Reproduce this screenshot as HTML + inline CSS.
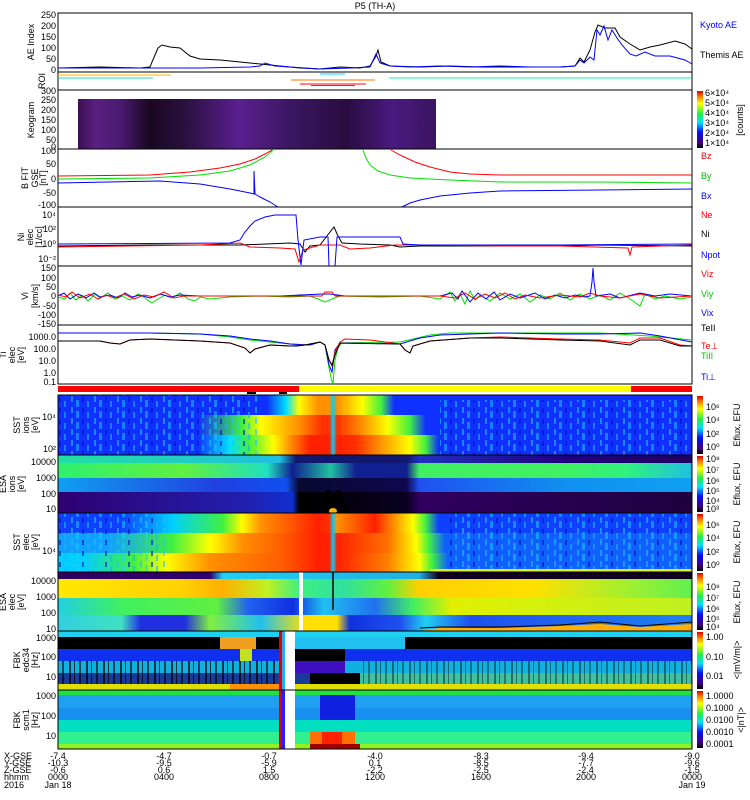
<!DOCTYPE html>
<html><head><meta charset="utf-8"><style>
body{margin:0;background:#fff}
svg{display:block;font-family:"Liberation Sans",sans-serif}
.t{font-size:9px;fill:#000}
.tl{font-size:9px;text-anchor:end}
.r{font-size:9px}
</style></head><body>
<svg width="750" height="800" viewBox="0 0 750 800" xmlns="http://www.w3.org/2000/svg">
<defs>
<pattern id="spk" width="23" height="11" patternUnits="userSpaceOnUse"><rect x="2" y="0" width="2" height="6" fill="#20c0ff" opacity=".6"/><rect x="7" y="4" width="3" height="7" fill="#20d0ff" opacity=".5"/><rect x="13" y="1" width="2" height="5" fill="#0010c0" opacity=".6"/><rect x="18" y="5" width="2" height="6" fill="#20b0ff" opacity=".6"/></pattern>
<pattern id="blk" width="17" height="12" patternUnits="userSpaceOnUse"><rect x="1" y="0" width="2" height="12" fill="#000" opacity=".7"/><rect x="6" y="0" width="1" height="12" fill="#000" opacity=".7"/><rect x="11" y="0" width="2" height="12" fill="#000" opacity=".6"/></pattern>
<linearGradient id="rb" x1="0" y1="1" x2="0" y2="0"><stop offset="0" stop-color="#000"/><stop offset=".1" stop-color="#400080"/><stop offset=".28" stop-color="#0010ff"/><stop offset=".45" stop-color="#00e0ff"/><stop offset=".6" stop-color="#20f040"/><stop offset=".78" stop-color="#ffff00"/><stop offset=".9" stop-color="#ff8000"/><stop offset="1" stop-color="#e00000"/></linearGradient>
<linearGradient id="keo" x1="0" y1="0" x2="1" y2="0"><stop offset="0" stop-color="#3a1050"/><stop offset=".05" stop-color="#5a2080"/><stop offset=".12" stop-color="#4a1a70"/><stop offset=".2" stop-color="#1a0820"/><stop offset=".3" stop-color="#2a1040"/><stop offset=".45" stop-color="#5a2090"/><stop offset=".6" stop-color="#3a1660"/><stop offset=".75" stop-color="#2a0c40"/><stop offset=".88" stop-color="#4a1a80"/><stop offset="1" stop-color="#3a1460"/></linearGradient>
<linearGradient id="si1" gradientUnits="userSpaceOnUse" x1="58" x2="692" y1="0" y2="0"><stop offset=".33" stop-color="#1030ff"/><stop offset=".36" stop-color="#00e0ff"/><stop offset=".38" stop-color="#ffff00"/><stop offset=".41" stop-color="#ff9000"/><stop offset=".428" stop-color="#ff9000"/><stop offset=".434" stop-color="#00d0ff"/><stop offset=".44" stop-color="#ff9000"/><stop offset=".48" stop-color="#ffff00"/><stop offset=".51" stop-color="#40f040"/><stop offset=".53" stop-color="#1030ff"/></linearGradient>
<linearGradient id="si2" gradientUnits="userSpaceOnUse" x1="58" x2="692" y1="0" y2="0"><stop offset=".22" stop-color="#1030ff"/><stop offset=".29" stop-color="#40f040"/><stop offset=".32" stop-color="#ffff00"/><stop offset=".38" stop-color="#ff9000"/><stop offset=".416" stop-color="#ff3000"/><stop offset=".428" stop-color="#ff3000"/><stop offset=".434" stop-color="#00d0ff"/><stop offset=".44" stop-color="#ff3000"/><stop offset=".48" stop-color="#ff9000"/><stop offset=".52" stop-color="#ffff00"/><stop offset=".555" stop-color="#40f040"/><stop offset=".58" stop-color="#1030ff"/></linearGradient>
<linearGradient id="si3" gradientUnits="userSpaceOnUse" x1="58" x2="692" y1="0" y2="0"><stop offset=".22" stop-color="#1030ff"/><stop offset=".27" stop-color="#00e0ff"/><stop offset=".30" stop-color="#40f040"/><stop offset=".34" stop-color="#ffff00"/><stop offset=".366" stop-color="#ff9000"/><stop offset=".397" stop-color="#ff2000"/><stop offset=".428" stop-color="#ff2000"/><stop offset=".434" stop-color="#00d0ff"/><stop offset=".44" stop-color="#ff2000"/><stop offset=".47" stop-color="#ff3000"/><stop offset=".508" stop-color="#ff9000"/><stop offset=".555" stop-color="#ffff00"/><stop offset=".58" stop-color="#40f040"/><stop offset=".60" stop-color="#1030ff"/></linearGradient>
<linearGradient id="ei1" gradientUnits="userSpaceOnUse" x1="58" x2="692" y1="0" y2="0"><stop offset="0" stop-color="#20e0a0"/><stop offset=".35" stop-color="#20c0e0"/><stop offset=".375" stop-color="#101870"/><stop offset=".55" stop-color="#101870"/><stop offset=".57" stop-color="#2030c0"/><stop offset=".8" stop-color="#200080"/><stop offset="1" stop-color="#200060"/></linearGradient>
<linearGradient id="ei2" gradientUnits="userSpaceOnUse" x1="58" x2="692" y1="0" y2="0"><stop offset="0" stop-color="#30f070"/><stop offset=".2" stop-color="#60f040"/><stop offset=".33" stop-color="#20e0c0"/><stop offset=".37" stop-color="#102090"/><stop offset=".43" stop-color="#20c0a0"/><stop offset=".47" stop-color="#102090"/><stop offset=".55" stop-color="#102090"/><stop offset=".57" stop-color="#40f060"/><stop offset=".8" stop-color="#40f060"/><stop offset=".9" stop-color="#30f080"/><stop offset="1" stop-color="#20c0e0"/></linearGradient>
<linearGradient id="ei3" gradientUnits="userSpaceOnUse" x1="58" x2="692" y1="0" y2="0"><stop offset="0" stop-color="#10a0f0"/><stop offset=".25" stop-color="#2040e0"/><stop offset=".36" stop-color="#1050f0"/><stop offset=".38" stop-color="#080830"/><stop offset=".55" stop-color="#100850"/><stop offset=".57" stop-color="#2050f0"/><stop offset=".8" stop-color="#1090f0"/><stop offset="1" stop-color="#10a0f0"/></linearGradient>
<linearGradient id="ei4" gradientUnits="userSpaceOnUse" x1="58" x2="692" y1="0" y2="0"><stop offset="0" stop-color="#300070"/><stop offset=".3" stop-color="#2020b0"/><stop offset=".37" stop-color="#1030d0"/><stop offset=".38" stop-color="#000"/><stop offset=".55" stop-color="#080020"/><stop offset=".57" stop-color="#300060"/><stop offset="1" stop-color="#200040"/></linearGradient>
<linearGradient id="se1" gradientUnits="userSpaceOnUse" x1="58" x2="692" y1="0" y2="0"><stop offset=".1" stop-color="#1040ff"/><stop offset=".18" stop-color="#00d0ff"/><stop offset=".26" stop-color="#40f040"/><stop offset=".29" stop-color="#ffff00"/><stop offset=".32" stop-color="#ff9000"/><stop offset=".36" stop-color="#ff6000"/><stop offset=".41" stop-color="#ff2000"/><stop offset=".428" stop-color="#ff3000"/><stop offset=".434" stop-color="#00d0ff"/><stop offset=".44" stop-color="#ff9000"/><stop offset=".50" stop-color="#ff2000"/><stop offset=".53" stop-color="#ff9000"/><stop offset=".56" stop-color="#ffff00"/><stop offset=".58" stop-color="#40f040"/><stop offset=".60" stop-color="#1040ff"/></linearGradient>
<linearGradient id="se2" gradientUnits="userSpaceOnUse" x1="58" x2="692" y1="0" y2="0"><stop offset=".08" stop-color="#10a0ff"/><stop offset=".18" stop-color="#40f040"/><stop offset=".24" stop-color="#ffff00"/><stop offset=".29" stop-color="#ff9000"/><stop offset=".35" stop-color="#ff6000"/><stop offset=".41" stop-color="#ff2000"/><stop offset=".428" stop-color="#ff2000"/><stop offset=".434" stop-color="#00d0ff"/><stop offset=".44" stop-color="#ff2000"/><stop offset=".52" stop-color="#ff7000"/><stop offset=".565" stop-color="#ffff00"/><stop offset=".585" stop-color="#40f040"/><stop offset=".61" stop-color="#1060ff"/></linearGradient>
<linearGradient id="se3" gradientUnits="userSpaceOnUse" x1="58" x2="692" y1="0" y2="0"><stop offset=".04" stop-color="#00d0ff"/><stop offset=".12" stop-color="#40f040"/><stop offset=".17" stop-color="#ffff00"/><stop offset=".24" stop-color="#ff9000"/><stop offset=".35" stop-color="#ff6000"/><stop offset=".41" stop-color="#ff2000"/><stop offset=".428" stop-color="#ff2000"/><stop offset=".434" stop-color="#00d0ff"/><stop offset=".44" stop-color="#ff2000"/><stop offset=".52" stop-color="#ff8000"/><stop offset=".57" stop-color="#ffff00"/><stop offset=".59" stop-color="#40f040"/><stop offset=".615" stop-color="#1060ff"/></linearGradient>
<linearGradient id="ee1" gradientUnits="userSpaceOnUse" x1="58" x2="692" y1="0" y2="0"><stop offset="0" stop-color="#300060"/><stop offset=".24" stop-color="#300070"/><stop offset=".26" stop-color="#20d0f0"/><stop offset=".57" stop-color="#20b0e0"/><stop offset=".6" stop-color="#100020"/><stop offset="1" stop-color="#100020"/></linearGradient>
<linearGradient id="ee2" gradientUnits="userSpaceOnUse" x1="58" x2="692" y1="0" y2="0"><stop offset="0" stop-color="#ffe800"/><stop offset=".2" stop-color="#ffd000"/><stop offset=".26" stop-color="#ffb000"/><stop offset=".33" stop-color="#c0f020"/><stop offset=".38" stop-color="#40f080"/><stop offset=".45" stop-color="#30e0a0"/><stop offset=".52" stop-color="#60f040"/><stop offset=".57" stop-color="#ffd000"/><stop offset=".75" stop-color="#ffe000"/><stop offset=".9" stop-color="#a0f030"/><stop offset="1" stop-color="#60f050"/></linearGradient>
<linearGradient id="ee3" gradientUnits="userSpaceOnUse" x1="58" x2="692" y1="0" y2="0"><stop offset="0" stop-color="#20d0e0"/><stop offset=".1" stop-color="#40f060"/><stop offset=".25" stop-color="#60f040"/><stop offset=".3" stop-color="#2060f0"/><stop offset=".37" stop-color="#1030e0"/><stop offset=".42" stop-color="#20c0f0"/><stop offset=".5" stop-color="#2070f0"/><stop offset=".56" stop-color="#40f060"/><stop offset=".62" stop-color="#e0f000"/><stop offset="1" stop-color="#c0f020"/></linearGradient>
<linearGradient id="ee4" gradientUnits="userSpaceOnUse" x1="58" x2="692" y1="0" y2="0"><stop offset="0" stop-color="#30d0e0"/><stop offset=".1" stop-color="#40e0c0"/><stop offset=".13" stop-color="#2030e0"/><stop offset=".2" stop-color="#2030e0"/><stop offset=".24" stop-color="#80f040"/><stop offset=".32" stop-color="#20c0f0"/><stop offset=".39" stop-color="#ffe000"/><stop offset=".44" stop-color="#ffe000"/><stop offset=".46" stop-color="#1030e0"/><stop offset=".54" stop-color="#2050f0"/><stop offset=".58" stop-color="#20d0f0"/><stop offset=".65" stop-color="#2050f0"/><stop offset="1" stop-color="#2080f0"/></linearGradient>
</defs>
<rect width="750" height="800" fill="#fff"/>
<text x="375" y="9" class="t" text-anchor="middle">P5 (TH-A)</text>

<!-- AE -->
<rect x="58" y="13" width="634" height="59" fill="none" stroke="#000"/>
<polyline fill="none" stroke="#000" stroke-width="1" points="58,68 100,67 140,68 150,67 152,62 158,48 162,45 170,47 180,48 190,56 200,59 220,60 240,62 260,64 280,66 300,68 320,69 340,67 360,68 370,66 376,56 378,50 381,62 390,66 420,67 450,66 480,67 520,67 560,67 575,66 580,58 584,62 590,50 595,32 598,25 605,28 615,28 620,37 630,44 640,50 650,47 660,45 675,41 685,44 692,49"/>
<polyline fill="none" stroke="#0000ff" stroke-width="1" points="58,68 150,68 200,68 250,67 260,66 265,63 275,66 290,67 320,69 350,68 370,67 376,54 380,63 390,66 410,67 440,66 470,67 500,66 530,67 560,67 575,66 580,60 584,63 590,57 594,60 597,30 600,35 604,26 608,40 612,30 617,38 622,45 630,54 636,56 645,52 655,56 670,56 685,60 692,64"/>
<text x="56" y="18" class="tl">250</text><text x="56" y="29" class="tl">200</text><text x="56" y="40" class="tl">150</text><text x="56" y="51" class="tl">100</text><text x="56" y="62" class="tl">50</text><text x="56" y="73" class="tl">0</text>
<text transform="translate(34,42) rotate(-90)" class="t" text-anchor="middle">AE Index</text>
<text x="700" y="28" class="r" fill="#0000ff">Kyoto AE</text>
<text x="700" y="58" class="r">Themis AE</text>

<!-- ROI -->
<rect x="58" y="72" width="634" height="18" fill="none" stroke="#000"/>
<line x1="58" y1="75" x2="171" y2="75" stroke="#ffb000"/><line x1="58" y1="78" x2="153" y2="78" stroke="#20e0a0"/>
<line x1="320" y1="74" x2="345" y2="74" stroke="#00d0ff"/><line x1="291" y1="80" x2="375" y2="80" stroke="#ff7000"/>
<line x1="300" y1="84" x2="366" y2="84" stroke="#ff0000"/><line x1="311" y1="85.5" x2="355" y2="85.5" stroke="#2060ff"/>
<line x1="389" y1="78" x2="692" y2="78" stroke="#20f0a0"/>
<text transform="translate(45,81) rotate(-90)" class="t" text-anchor="middle">ROI</text>

<!-- Keogram -->
<rect x="78" y="99" width="358" height="50" fill="url(#keo)"/>
<rect x="58" y="90" width="634" height="59" fill="none" stroke="#000"/>
<text x="56" y="94" class="tl">300</text><text x="56" y="103" class="tl">250</text><text x="56" y="113" class="tl">200</text><text x="56" y="123" class="tl">150</text><text x="56" y="133" class="tl">100</text><text x="56" y="143" class="tl">50</text><text x="56" y="150" class="tl">0</text>
<text transform="translate(34,120) rotate(-90)" class="t" text-anchor="middle">Keogram</text>
<rect x="697" y="91" width="6" height="57" fill="url(#rb)"/>
<text x="705" y="96" class="r" font-size="8">6×10⁴</text><text x="705" y="106" class="r" font-size="8">5×10⁴</text><text x="705" y="116" class="r" font-size="8">4×10⁴</text><text x="705" y="126" class="r" font-size="8">3×10⁴</text><text x="705" y="136" class="r" font-size="8">2×10⁴</text><text x="705" y="146" class="r" font-size="8">1×10⁴</text>
<text transform="translate(743,120) rotate(-90)" class="t" font-size="8" text-anchor="middle">[counts]</text>

<!-- B -->
<rect x="58" y="149" width="634" height="58" fill="none" stroke="#000"/>
<polyline fill="none" stroke="#ff0000" points="58,176 150,175 190,172 220,168 240,164 255,159 265,154 272,150"/>
<polyline fill="none" stroke="#00e000" points="58,179 150,178 200,175 230,171 250,165 265,157 273,150"/>
<polyline fill="none" stroke="#0000ff" points="58,183 160,181 200,184 230,189 250,193 254,194 254,171 255,194 260,197 270,202 278,207"/>
<polyline fill="none" stroke="#00e000" points="363,150 366,158 370,165 378,171 390,175 410,178 450,180 500,182 600,182 692,183"/>
<polyline fill="none" stroke="#ff0000" points="391,150 400,155 415,162 430,167 450,172 470,174 500,175 600,175 692,175"/>
<polyline fill="none" stroke="#0000ff" points="402,207 410,203 420,200 440,196 470,193 500,191 600,190 692,189"/>
<text x="56" y="154" class="tl">100</text><text x="56" y="167" class="tl">50</text><text x="56" y="182" class="tl">0</text><text x="56" y="196" class="tl">-50</text><text x="56" y="208" class="tl">-100</text>
<text transform="translate(28,178) rotate(-90)" class="t" text-anchor="middle">B FIT</text>
<text transform="translate(38,178) rotate(-90)" class="t" font-size="7" text-anchor="middle">GSE</text>
<text transform="translate(46,178) rotate(-90)" class="t" text-anchor="middle">[nT]</text>
<text x="701" y="159" class="r" fill="#ff0000">Bz</text><text x="701" y="179" class="r" fill="#00c000">By</text><text x="701" y="199" class="r" fill="#0000ff">Bx</text>

<!-- Ni -->
<rect x="58" y="207" width="634" height="59" fill="none" stroke="#000"/>
<polyline fill="none" stroke="#000" points="58,246 150,245 240,245 290,243 300,244 305,252 310,246 320,245 330,232 334,227 338,236 342,243 360,244 390,245 400,247 420,246 500,246 560,246 600,245 692,246"/>
<polyline fill="none" stroke="#ff0000" points="58,247 200,245 240,243 250,247 280,248 295,249 299,262 303,250 320,245 340,245 350,249 370,248 395,245 410,245 500,246 560,246 628,248 630,255 632,247 692,245"/>
<polyline fill="none" stroke="#0000ff" points="58,244 230,243 240,240 245,232 250,226 255,221 265,217 275,215 296,215 298,240 301,265 304,240 320,237 328,237 329,266 335,266 337,237 400,237 403,244 420,245 560,245 692,244"/>
<text x="56" y="218" class="tl">10⁴</text><text x="56" y="232" class="tl">10²</text><text x="56" y="247" class="tl">10⁰</text><text x="56" y="262" class="tl">10⁻²</text>
<text transform="translate(24,237) rotate(-90)" class="t" text-anchor="middle">Ni</text>
<text transform="translate(33,237) rotate(-90)" class="t" font-size="7" text-anchor="middle">elec</text>
<text transform="translate(42,237) rotate(-90)" class="t" text-anchor="middle">[1/cc]</text>
<text x="701" y="218" class="r" fill="#ff0000">Ne</text><text x="701" y="237" class="r">Ni</text><text x="701" y="258" class="r" fill="#0000ff">Npot</text>

<!-- Vi -->
<rect x="58" y="266" width="634" height="59" fill="none" stroke="#000"/>
<polyline fill="none" stroke="#00e000" points="58,297 65,299 70,293 76,300 82,295 88,301 95,294 100,298 108,293 115,299 122,296 130,300 138,294 145,298 152,303 158,299 165,295 172,298 180,293 188,299 195,301 200,297 210,299 230,297 260,296 290,297 310,296 318,299 325,302 332,299 340,296 380,297 420,296 440,299 450,292 455,301 460,294 465,304 470,291 475,300 480,295 490,301 500,293 510,299 520,294 530,302 540,295 550,299 560,293 570,300 580,294 590,299 600,295 610,300 620,293 630,299 640,306 645,294 655,299 665,296 680,299 692,297"/>
<polyline fill="none" stroke="#0000ff" points="58,296 64,293 70,299 78,294 86,298 94,293 100,297 110,295 118,298 125,293 132,297 140,295 150,298 160,294 170,297 180,295 200,296 240,296 280,296 300,295 322,294 330,294 345,296 400,296 440,296 452,293 458,299 462,291 470,302 478,293 486,299 494,292 500,300 510,294 520,298 535,293 545,299 555,295 565,298 575,295 585,297 590,296 592,282 593,268 594,282 596,296 610,294 620,298 640,293 655,296 670,294 692,296"/>
<polyline fill="none" stroke="#ff0000" points="58,295 66,297 72,292 80,298 90,294 98,299 106,295 114,298 124,294 134,299 144,295 154,297 164,292 174,298 184,296 200,296 240,296 300,296 322,296 325,292 332,292 335,296 360,296 440,296 455,298 465,293 475,299 485,294 495,298 505,293 515,299 525,295 540,298 560,295 580,297 590,293 600,296 620,298 640,294 660,298 692,296"/>
<text x="56" y="271" class="tl">150</text><text x="56" y="281" class="tl">100</text><text x="56" y="290" class="tl">50</text><text x="56" y="299" class="tl">0</text><text x="56" y="309" class="tl">-50</text><text x="56" y="318" class="tl">-100</text><text x="56" y="327" class="tl">-150</text>
<text transform="translate(28,296) rotate(-90)" class="t" text-anchor="middle">Vi</text>
<text transform="translate(38,296) rotate(-90)" class="t" text-anchor="middle">[km/s]</text>
<text x="701" y="277" class="r" fill="#ff0000">Viz</text><text x="701" y="297" class="r" fill="#00c000">Viy</text><text x="701" y="316" class="r" fill="#0000ff">Vix</text>

<!-- Ti -->
<rect x="58" y="325" width="634" height="59" fill="none" stroke="#000"/>
<polyline fill="none" stroke="#00e000" points="58,333 150,333 200,334 230,337 250,340 270,342 290,344 310,345 320,342 325,345 328,362 331,378 333,384 335,360 338,348 342,343 400,342 430,335 450,333 600,333 650,336 692,340"/>
<polyline fill="none" stroke="#0000ff" points="58,333 150,333 200,334 230,336 250,339 270,341 290,344 310,345 320,342 325,345 329,365 332,372 335,350 340,343 400,344 420,338 440,335 500,333 560,334 600,334 640,333 660,336 692,342"/>
<polyline fill="none" stroke="#ff0000" points="58,341 100,341 110,343 120,344 130,340 150,339 200,341 230,343 245,348 250,353 255,349 270,345 290,346 305,345 320,342 325,345 329,360 332,366 335,352 340,342 345,339 370,340 400,344 405,350 410,353 413,346 430,341 470,338 500,337 560,339 600,340 630,343 640,338 660,338 680,345 692,346"/>
<polyline fill="none" stroke="#000" points="58,341 100,341 110,343 120,344 130,340 150,339 200,341 230,343 245,348 250,353 255,349 270,345 290,346 297,346 305,345 320,342 325,345 329,360 332,365 335,355 340,343 400,344 405,350 410,353 413,346 430,341 470,338 500,338 560,340 600,341 630,345 640,340 660,340 680,346 692,346"/>
<text x="56" y="340" class="tl">1000.0</text><text x="56" y="352" class="tl">100.0</text><text x="56" y="364" class="tl">10.0</text><text x="56" y="376" class="tl">1.0</text><text x="56" y="385" class="tl">0.1</text>
<text transform="translate(6,355) rotate(-90)" class="t" text-anchor="middle">Ti</text>
<text transform="translate(15,355) rotate(-90)" class="t" font-size="7" text-anchor="middle">elec</text>
<text transform="translate(24,355) rotate(-90)" class="t" text-anchor="middle">[eV]</text>
<text x="701" y="331" class="r">TeII</text><text x="701" y="349" class="r" fill="#ff0000">Te⊥</text><text x="701" y="359" class="r" fill="#00c000">TiII</text><text x="701" y="380" class="r" fill="#0000ff">Ti⊥</text>

<!-- bar -->
<rect x="58" y="386" width="241" height="6" fill="#ff0000"/><rect x="299" y="386" width="332" height="6" fill="#ffff00"/><rect x="631" y="386" width="61" height="6" fill="#ff0000"/>
<rect x="247" y="392" width="9" height="2" fill="#000"/><rect x="279" y="392" width="8" height="2" fill="#000"/>

<!-- SST ion -->
<rect x="58" y="395" width="634" height="20" fill="url(#si1)"/>
<rect x="58" y="415" width="634" height="20" fill="url(#si2)"/>
<rect x="58" y="435" width="634" height="20" fill="url(#si3)"/>
<rect x="58" y="395" width="200" height="60" fill="url(#spk)"/>
<rect x="440" y="400" width="252" height="55" fill="url(#spk)"/>
<rect x="58" y="395" width="634" height="60" fill="none" stroke="#000"/>
<text x="56" y="420" class="tl">10⁴</text><text x="56" y="452" class="tl">10²</text>
<text transform="translate(20,425) rotate(-90)" class="t" text-anchor="middle">SST</text>
<text transform="translate(29,425) rotate(-90)" class="t" font-size="7" text-anchor="middle">ions</text>
<text transform="translate(38,425) rotate(-90)" class="t" text-anchor="middle">[eV]</text>
<rect x="697" y="396" width="6" height="58" fill="url(#rb)"/>
<text x="706" y="410" class="r" font-size="8">10⁶</text><text x="706" y="423" class="r" font-size="8">10⁴</text><text x="706" y="437" class="r" font-size="8">10²</text><text x="706" y="450" class="r" font-size="8">10⁰</text>
<text transform="translate(740,425) rotate(-90)" class="t" font-size="8" text-anchor="middle">Eflux, EFU</text>

<!-- ESA ion -->
<rect x="58" y="455" width="634" height="8" fill="url(#ei1)"/>
<rect x="58" y="463" width="634" height="15" fill="url(#ei2)"/>
<rect x="58" y="478" width="634" height="14" fill="url(#ei3)"/>
<rect x="58" y="492" width="634" height="21" fill="url(#ei4)"/>
<path d="M318,513 L326,490 L330,490 L333,500 L336,490 L340,490 L348,513Z" fill="#000"/>
<ellipse cx="333" cy="511" rx="4" ry="3" fill="#ffb000"/>
<rect x="58" y="455" width="634" height="58" fill="none" stroke="#000"/>
<text x="56" y="465" class="tl">10000</text><text x="56" y="481" class="tl">1000</text><text x="56" y="497" class="tl">100</text><text x="56" y="512" class="tl">10</text>
<text transform="translate(6,484) rotate(-90)" class="t" text-anchor="middle">ESA</text>
<text transform="translate(15,484) rotate(-90)" class="t" font-size="7" text-anchor="middle">ions</text>
<text transform="translate(24,484) rotate(-90)" class="t" text-anchor="middle">[eV]</text>
<rect x="697" y="456" width="6" height="56" fill="url(#rb)"/>
<text x="706" y="462" class="r" font-size="8">10⁸</text><text x="706" y="473" class="r" font-size="8">10⁷</text><text x="706" y="484" class="r" font-size="8">10⁶</text><text x="706" y="494" class="r" font-size="8">10⁵</text><text x="706" y="504" class="r" font-size="8">10⁴</text><text x="706" y="512" class="r" font-size="8">10³</text>
<text transform="translate(740,484) rotate(-90)" class="t" font-size="8" text-anchor="middle">Eflux, EFU</text>

<!-- SST elec -->
<rect x="58" y="513" width="634" height="20" fill="url(#se1)"/>
<rect x="58" y="533" width="634" height="20" fill="url(#se2)"/>
<rect x="58" y="553" width="634" height="19" fill="url(#se3)"/>
<rect x="58" y="513" width="110" height="59" fill="url(#spk)"/>
<rect x="450" y="513" width="242" height="56" fill="url(#spk)"/>
<rect x="430" y="569" width="262" height="3" fill="#e0f000"/>
<rect x="58" y="513" width="634" height="59" fill="none" stroke="#000"/>
<text x="56" y="554" class="tl">10⁴</text>
<text transform="translate(20,542) rotate(-90)" class="t" text-anchor="middle">SST</text>
<text transform="translate(29,542) rotate(-90)" class="t" font-size="7" text-anchor="middle">elec</text>
<text transform="translate(38,542) rotate(-90)" class="t" text-anchor="middle">[eV]</text>
<rect x="697" y="514" width="6" height="57" fill="url(#rb)"/>
<text x="706" y="528" class="r" font-size="8">10⁶</text><text x="706" y="541" class="r" font-size="8">10⁴</text><text x="706" y="555" class="r" font-size="8">10²</text><text x="706" y="568" class="r" font-size="8">10⁰</text>
<text transform="translate(740,542) rotate(-90)" class="t" font-size="8" text-anchor="middle">Eflux, EFU</text>

<!-- ESA elec -->
<rect x="58" y="572" width="634" height="7" fill="url(#ee1)"/>
<rect x="58" y="579" width="634" height="19" fill="url(#ee2)"/>
<rect x="58" y="598" width="634" height="17" fill="url(#ee3)"/>
<rect x="58" y="615" width="634" height="16" fill="url(#ee4)"/>
<polygon points="420,631 440,628 500,628 560,626 600,624 640,627 692,624 692,631" fill="#ffb000"/>
<polyline fill="none" stroke="#000" points="420,628 440,627 500,627 560,625 600,622 640,626 692,622"/>
<rect x="299" y="572" width="4" height="59" fill="#fff"/>
<line x1="333" y1="572" x2="333" y2="610" stroke="#000" stroke-width="1.5"/>
<rect x="58" y="572" width="634" height="59" fill="none" stroke="#000"/>
<text x="56" y="584" class="tl">10000</text><text x="56" y="600" class="tl">1000</text><text x="56" y="616" class="tl">100</text><text x="56" y="632" class="tl">10</text>
<text transform="translate(6,602) rotate(-90)" class="t" text-anchor="middle">ESA</text>
<text transform="translate(15,602) rotate(-90)" class="t" font-size="7" text-anchor="middle">elec</text>
<text transform="translate(24,602) rotate(-90)" class="t" text-anchor="middle">[eV]</text>
<rect x="697" y="573" width="6" height="57" fill="url(#rb)"/>
<text x="706" y="590" class="r" font-size="8">10⁸</text><text x="706" y="601" class="r" font-size="8">10⁷</text><text x="706" y="612" class="r" font-size="8">10⁶</text><text x="706" y="622" class="r" font-size="8">10⁵</text><text x="706" y="630" class="r" font-size="8">10⁴</text>
<text transform="translate(740,602) rotate(-90)" class="t" font-size="8" text-anchor="middle">Eflux, EFU</text>

<!-- FBK1 -->
<rect x="58" y="631" width="634" height="6" fill="#20d0f0"/>
<rect x="58" y="637" width="634" height="12" fill="#000"/>
<rect x="220" y="637" width="36" height="12" fill="#f0a020"/><rect x="295" y="637" width="110" height="12" fill="#20c0f0"/>
<rect x="58" y="649" width="634" height="12" fill="#1030f0"/>
<rect x="240" y="649" width="12" height="12" fill="#c0e020"/><rect x="295" y="649" width="50" height="12" fill="#000"/>
<rect x="58" y="661" width="634" height="12" fill="#10b0e0"/>
<rect x="295" y="661" width="50" height="12" fill="#4010c0"/>
<rect x="58" y="673" width="634" height="11" fill="#1a3a9a"/>
<rect x="310" y="673" width="50" height="11" fill="#000"/><rect x="360" y="673" width="332" height="11" fill="#40c0a0"/>
<rect x="58" y="661" width="220" height="23" fill="url(#blk)"/>
<rect x="360" y="661" width="332" height="23" fill="url(#blk)" opacity=".6"/>
<rect x="58" y="684" width="634" height="6" fill="#e0e000"/>
<rect x="230" y="684" width="50" height="6" fill="#ff9000"/>
<rect x="279" y="631" width="3" height="118" fill="#e00000"/><rect x="282" y="631" width="3" height="118" fill="#20b0ff"/>
<rect x="285" y="631" width="10" height="118" fill="#fff"/>
<rect x="58" y="631" width="634" height="59" fill="none" stroke="#000"/>
<text x="56" y="641" class="tl">1000</text><text x="56" y="660" class="tl">100</text><text x="56" y="680" class="tl">10</text>
<text transform="translate(20,660) rotate(-90)" class="t" text-anchor="middle">FBK</text>
<text transform="translate(29,660) rotate(-90)" class="t" font-size="7" text-anchor="middle">edc34</text>
<text transform="translate(38,660) rotate(-90)" class="t" text-anchor="middle">[Hz]</text>
<rect x="697" y="632" width="6" height="57" fill="url(#rb)"/>
<text x="706" y="640" class="r" font-size="8">1.00</text><text x="706" y="660" class="r" font-size="8">0.10</text><text x="706" y="679" class="r" font-size="8">0.01</text>
<text transform="translate(740,660) rotate(-90)" class="t" font-size="8" text-anchor="middle">&lt;|mV/m|&gt;</text>

<!-- FBK2 -->
<rect x="58" y="690" width="634" height="5" fill="#20e040"/>
<rect x="58" y="695" width="634" height="13" fill="#20a0f0"/>
<rect x="58" y="708" width="634" height="12" fill="#1890f0"/>
<rect x="58" y="720" width="634" height="12" fill="#00e0c0"/>
<rect x="58" y="732" width="634" height="12" fill="#30f090"/>
<rect x="58" y="744" width="634" height="5" fill="#90f020"/>
<rect x="320" y="695" width="35" height="25" fill="#1020e0"/>
<rect x="310" y="732" width="45" height="12" fill="#ff7000"/><rect x="322" y="732" width="20" height="12" fill="#ff2000"/>
<rect x="310" y="744" width="50" height="5" fill="#a00000"/>
<rect x="279" y="690" width="3" height="59" fill="#e00000"/><rect x="282" y="690" width="3" height="59" fill="#2020ff"/>
<rect x="285" y="690" width="10" height="59" fill="#fff"/>
<rect x="58" y="690" width="634" height="59" fill="none" stroke="#000"/>
<text x="56" y="699" class="tl">1000</text><text x="56" y="719" class="tl">100</text><text x="56" y="739" class="tl">10</text>
<text transform="translate(20,720) rotate(-90)" class="t" text-anchor="middle">FBK</text>
<text transform="translate(29,720) rotate(-90)" class="t" font-size="7" text-anchor="middle">scm1</text>
<text transform="translate(38,720) rotate(-90)" class="t" text-anchor="middle">[Hz]</text>
<rect x="697" y="691" width="6" height="57" fill="url(#rb)"/>
<text x="706" y="699" class="r" font-size="8">1.0000</text><text x="706" y="711" class="r" font-size="8">0.1000</text><text x="706" y="723" class="r" font-size="8">0.0100</text><text x="706" y="735" class="r" font-size="8">0.0010</text><text x="706" y="747" class="r" font-size="8">0.0001</text>
<text transform="translate(744,720) rotate(-90)" class="t" font-size="8" text-anchor="middle">&lt;|nT|&gt;</text>

<!-- x axis labels -->
<g class="t" font-size="8">
<text x="4" y="759">X-GSE</text><text x="4" y="766">Y-GSE</text><text x="4" y="773">Z-GSE</text><text x="4" y="780">hhmm</text><text x="4" y="788">2016</text>
<g text-anchor="middle">
<text x="58" y="759">-7.4</text><text x="58" y="766">-10.3</text><text x="58" y="773">-0.6</text><text x="58" y="780">0000</text><text x="58" y="788">Jan 18</text>
<text x="164" y="759">-4.7</text><text x="164" y="766">-9.5</text><text x="164" y="773">0.6</text><text x="164" y="780">0400</text>
<text x="269" y="759">-0.7</text><text x="269" y="766">-5.9</text><text x="269" y="773">1.5</text><text x="269" y="780">0800</text>
<text x="375" y="759">-4.0</text><text x="375" y="766">0.1</text><text x="375" y="773">-2.2</text><text x="375" y="780">1200</text>
<text x="481" y="759">-8.3</text><text x="481" y="766">-8.5</text><text x="481" y="773">-2.5</text><text x="481" y="780">1600</text>
<text x="586" y="759">-9.4</text><text x="586" y="766">-7.7</text><text x="586" y="773">-2.4</text><text x="586" y="780">2000</text>
<text x="692" y="759">-9.0</text><text x="692" y="766">-9.6</text><text x="692" y="773">-1.5</text><text x="692" y="780">0000</text><text x="692" y="788">Jan 19</text>
</g></g>
</svg>
</body></html>
